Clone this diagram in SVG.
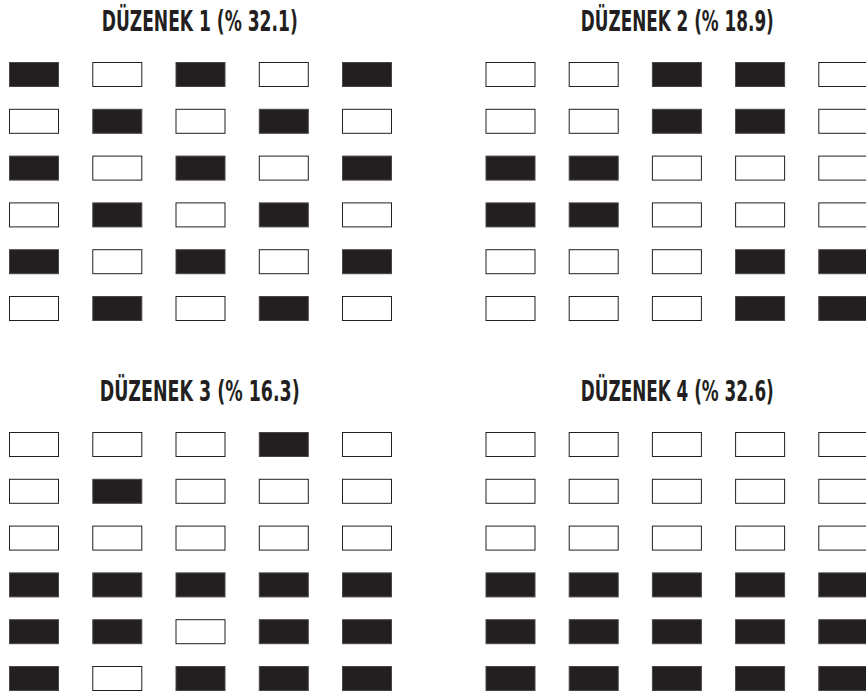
<svg xmlns="http://www.w3.org/2000/svg" width="866" height="695" viewBox="0 0 866 695">
<style>
.t{font-family:"DejaVu Sans Condensed","DejaVu Sans","Liberation Sans",sans-serif;font-weight:bold;font-size:28px;fill:#231f20;text-anchor:middle}
.b{fill:#231f20;stroke:#4a4647;stroke-width:1}
.w{fill:#ffffff;stroke:#231f20;stroke-width:1}
</style>
<rect width="866" height="695" fill="#ffffff"/>
<g id="panel1">
<text class="t" x="199.7" y="31" textLength="196" lengthAdjust="spacingAndGlyphs">DÜZENEK 1 (% 32.1)</text>
<rect class="b" x="9.5" y="62.5" width="49" height="24"/><rect class="w" x="92.8" y="62.5" width="49" height="24"/><rect class="b" x="176" y="62.5" width="49" height="24"/><rect class="w" x="259.3" y="62.5" width="49" height="24"/><rect class="b" x="342.5" y="62.5" width="49" height="24"/>
<rect class="w" x="9.5" y="109.3" width="49" height="24"/><rect class="b" x="92.8" y="109.3" width="49" height="24"/><rect class="w" x="176" y="109.3" width="49" height="24"/><rect class="b" x="259.3" y="109.3" width="49" height="24"/><rect class="w" x="342.5" y="109.3" width="49" height="24"/>
<rect class="b" x="9.5" y="156.1" width="49" height="24"/><rect class="w" x="92.8" y="156.1" width="49" height="24"/><rect class="b" x="176" y="156.1" width="49" height="24"/><rect class="w" x="259.3" y="156.1" width="49" height="24"/><rect class="b" x="342.5" y="156.1" width="49" height="24"/>
<rect class="w" x="9.5" y="202.9" width="49" height="24"/><rect class="b" x="92.8" y="202.9" width="49" height="24"/><rect class="w" x="176" y="202.9" width="49" height="24"/><rect class="b" x="259.3" y="202.9" width="49" height="24"/><rect class="w" x="342.5" y="202.9" width="49" height="24"/>
<rect class="b" x="9.5" y="249.7" width="49" height="24"/><rect class="w" x="92.8" y="249.7" width="49" height="24"/><rect class="b" x="176" y="249.7" width="49" height="24"/><rect class="w" x="259.3" y="249.7" width="49" height="24"/><rect class="b" x="342.5" y="249.7" width="49" height="24"/>
<rect class="w" x="9.5" y="296.5" width="49" height="24"/><rect class="b" x="92.8" y="296.5" width="49" height="24"/><rect class="w" x="176" y="296.5" width="49" height="24"/><rect class="b" x="259.3" y="296.5" width="49" height="24"/><rect class="w" x="342.5" y="296.5" width="49" height="24"/>
</g>
<g id="panel2">
<text class="t" x="677.3" y="31" textLength="193" lengthAdjust="spacingAndGlyphs">DÜZENEK 2 (% 18.9)</text>
<rect class="w" x="486" y="62.5" width="49" height="24"/><rect class="w" x="569.2" y="62.5" width="49" height="24"/><rect class="b" x="652.4" y="62.5" width="49" height="24"/><rect class="b" x="735.6" y="62.5" width="49" height="24"/><rect class="w" x="818.8" y="62.5" width="49" height="24"/>
<rect class="w" x="486" y="109.3" width="49" height="24"/><rect class="w" x="569.2" y="109.3" width="49" height="24"/><rect class="b" x="652.4" y="109.3" width="49" height="24"/><rect class="b" x="735.6" y="109.3" width="49" height="24"/><rect class="w" x="818.8" y="109.3" width="49" height="24"/>
<rect class="b" x="486" y="156.1" width="49" height="24"/><rect class="b" x="569.2" y="156.1" width="49" height="24"/><rect class="w" x="652.4" y="156.1" width="49" height="24"/><rect class="w" x="735.6" y="156.1" width="49" height="24"/><rect class="w" x="818.8" y="156.1" width="49" height="24"/>
<rect class="b" x="486" y="202.9" width="49" height="24"/><rect class="b" x="569.2" y="202.9" width="49" height="24"/><rect class="w" x="652.4" y="202.9" width="49" height="24"/><rect class="w" x="735.6" y="202.9" width="49" height="24"/><rect class="w" x="818.8" y="202.9" width="49" height="24"/>
<rect class="w" x="486" y="249.7" width="49" height="24"/><rect class="w" x="569.2" y="249.7" width="49" height="24"/><rect class="w" x="652.4" y="249.7" width="49" height="24"/><rect class="b" x="735.6" y="249.7" width="49" height="24"/><rect class="b" x="818.8" y="249.7" width="49" height="24"/>
<rect class="w" x="486" y="296.5" width="49" height="24"/><rect class="w" x="569.2" y="296.5" width="49" height="24"/><rect class="w" x="652.4" y="296.5" width="49" height="24"/><rect class="b" x="735.6" y="296.5" width="49" height="24"/><rect class="b" x="818.8" y="296.5" width="49" height="24"/>
</g>
<g id="panel3">
<text class="t" x="199.7" y="401" textLength="200" lengthAdjust="spacingAndGlyphs">DÜZENEK 3  (% 16.3)</text>
<rect class="w" x="9.5" y="432.5" width="49" height="24"/><rect class="w" x="92.8" y="432.5" width="49" height="24"/><rect class="w" x="176" y="432.5" width="49" height="24"/><rect class="b" x="259.3" y="432.5" width="49" height="24"/><rect class="w" x="342.5" y="432.5" width="49" height="24"/>
<rect class="w" x="9.5" y="479.3" width="49" height="24"/><rect class="b" x="92.8" y="479.3" width="49" height="24"/><rect class="w" x="176" y="479.3" width="49" height="24"/><rect class="w" x="259.3" y="479.3" width="49" height="24"/><rect class="w" x="342.5" y="479.3" width="49" height="24"/>
<rect class="w" x="9.5" y="526.1" width="49" height="24"/><rect class="w" x="92.8" y="526.1" width="49" height="24"/><rect class="w" x="176" y="526.1" width="49" height="24"/><rect class="w" x="259.3" y="526.1" width="49" height="24"/><rect class="w" x="342.5" y="526.1" width="49" height="24"/>
<rect class="b" x="9.5" y="572.9" width="49" height="24"/><rect class="b" x="92.8" y="572.9" width="49" height="24"/><rect class="b" x="176" y="572.9" width="49" height="24"/><rect class="b" x="259.3" y="572.9" width="49" height="24"/><rect class="b" x="342.5" y="572.9" width="49" height="24"/>
<rect class="b" x="9.5" y="619.7" width="49" height="24"/><rect class="b" x="92.8" y="619.7" width="49" height="24"/><rect class="w" x="176" y="619.7" width="49" height="24"/><rect class="b" x="259.3" y="619.7" width="49" height="24"/><rect class="b" x="342.5" y="619.7" width="49" height="24"/>
<rect class="b" x="9.5" y="666.5" width="49" height="24"/><rect class="w" x="92.8" y="666.5" width="49" height="24"/><rect class="b" x="176" y="666.5" width="49" height="24"/><rect class="b" x="259.3" y="666.5" width="49" height="24"/><rect class="b" x="342.5" y="666.5" width="49" height="24"/>
</g>
<g id="panel4">
<text class="t" x="677.3" y="401" textLength="193" lengthAdjust="spacingAndGlyphs">DÜZENEK 4 (% 32.6)</text>
<rect class="w" x="486" y="432.5" width="49" height="24"/><rect class="w" x="569.2" y="432.5" width="49" height="24"/><rect class="w" x="652.4" y="432.5" width="49" height="24"/><rect class="w" x="735.6" y="432.5" width="49" height="24"/><rect class="w" x="818.8" y="432.5" width="49" height="24"/>
<rect class="w" x="486" y="479.3" width="49" height="24"/><rect class="w" x="569.2" y="479.3" width="49" height="24"/><rect class="w" x="652.4" y="479.3" width="49" height="24"/><rect class="w" x="735.6" y="479.3" width="49" height="24"/><rect class="w" x="818.8" y="479.3" width="49" height="24"/>
<rect class="w" x="486" y="526.1" width="49" height="24"/><rect class="w" x="569.2" y="526.1" width="49" height="24"/><rect class="w" x="652.4" y="526.1" width="49" height="24"/><rect class="w" x="735.6" y="526.1" width="49" height="24"/><rect class="w" x="818.8" y="526.1" width="49" height="24"/>
<rect class="b" x="486" y="572.9" width="49" height="24"/><rect class="b" x="569.2" y="572.9" width="49" height="24"/><rect class="b" x="652.4" y="572.9" width="49" height="24"/><rect class="b" x="735.6" y="572.9" width="49" height="24"/><rect class="b" x="818.8" y="572.9" width="49" height="24"/>
<rect class="b" x="486" y="619.7" width="49" height="24"/><rect class="b" x="569.2" y="619.7" width="49" height="24"/><rect class="b" x="652.4" y="619.7" width="49" height="24"/><rect class="b" x="735.6" y="619.7" width="49" height="24"/><rect class="b" x="818.8" y="619.7" width="49" height="24"/>
<rect class="b" x="486" y="666.5" width="49" height="24"/><rect class="b" x="569.2" y="666.5" width="49" height="24"/><rect class="b" x="652.4" y="666.5" width="49" height="24"/><rect class="b" x="735.6" y="666.5" width="49" height="24"/><rect class="b" x="818.8" y="666.5" width="49" height="24"/>
</g>
</svg>
